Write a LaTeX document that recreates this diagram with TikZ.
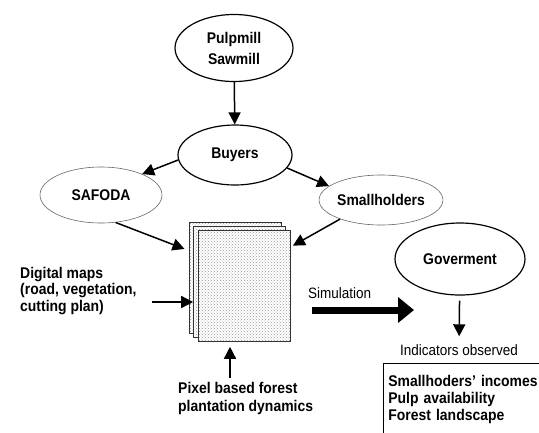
\documentclass[tikz,border=0pt]{standalone}
\usepackage{fontspec}
\setmainfont{Liberation Sans}[FakeStretch=0.9]
\usepackage{tikz}
\usetikzlibrary{shapes.geometric,arrows.meta,patterns}

\begin{document}
\begin{tikzpicture}[x=1pt, y=-1pt,
  every node/.style={font=\fontsize{15}{17}\selectfont},
  actor/.style={ellipse, draw, line width=1.2pt, inner sep=0pt, font=\fontsize{15.5}{21}\selectfont\bfseries},
  group/.style={ellipse, draw=black!60, line width=0.6pt, inner sep=0pt, font=\fontsize{15.5}{17}\selectfont\bfseries},
  page/.style={rectangle, draw=black!80, line width=0.6pt, minimum width=92pt, minimum height=111pt,
    preaction={fill=white}, pattern=crosshatch dots, pattern color=black!40},
  arr/.style={-{Triangle[length=12pt,width=12pt]}, line width=1.5pt},
  bigarr/.style={-{Triangle[length=16pt,width=25pt]}, line width=7pt}]

  \useasboundingbox (0,0) rectangle (539,432);

  \node[actor, minimum width=118pt, minimum height=67pt, align=center] (mill) at (234,48) {Pulpmill\\Sawmill};
  \node[actor, minimum width=114pt, minimum height=60pt] (buyers) at (235,155) {Buyers};
  \node[group, minimum width=122pt, minimum height=56pt] (safoda) at (101,195) {SAFODA};
  \node[group, minimum width=123pt, minimum height=50pt] (small) at (381,200) {Smallholders};
  \node[actor, minimum width=130pt, minimum height=72pt] (gov) at (460,259) {Goverment};

  \node[page] (page1) at (235.5,277.5) {};
  \node[page] (page2) at (239.5,281.5) {};
  \node[page] (page3) at (244,286) {};

  \node[anchor=north west, align=left, inner sep=0pt, font=\fontsize{15.5}{16.5}\selectfont\bfseries] (maps) at (20,267)
    {Digital maps\\(road, vegetation,\\cutting plan)};
  \node[anchor=north west, align=left, inner sep=0pt, font=\fontsize{15.5}{18}\selectfont\bfseries] (pixel) at (178,382)
    {Pixel based forest\\plantation dynamics};
  \node[anchor=west, inner sep=0pt] (sim) at (308,293) {Simulation};
  \node[inner sep=0pt] (ind) at (459,350) {Indicators observed};
  \node[draw, line width=0.6pt, anchor=north west, align=left, inner xsep=5pt, inner ysep=12pt, text width=200pt,
    text depth=50pt, font=\fontsize{15.5}{17}\selectfont\bfseries] (box) at (383,363)
    {Smallhoders' incomes\\Pulp availability\\Forest landscape};

  \coordinate (mapsend) at (152,302);
  \coordinate (pixend) at (230,378);
  \coordinate (simstart) at (312,310);
  \coordinate (simend) at (414,310);

  \draw[arr] (mill) -- (buyers);
  \draw[arr] (buyers.185) -- (safoda.27);
  \draw[arr] (buyers.346) -- (small.165);
  \draw[arr, shorten >=5pt] (safoda.298) -- (page1.150);
  \draw[arr, shorten >=3pt] (small.205) -- (page3.40);
  \draw[arr] (mapsend) -- (mapsend -| page2.west);
  \draw[arr, shorten >=5pt] (pixend) -- (pixend |- page3.south);
  \draw[bigarr] (simstart) -- (simend);
  \draw[arr, shorten <=5pt, shorten >=8pt] (gov) -- (ind);

\end{tikzpicture}
\end{document}
